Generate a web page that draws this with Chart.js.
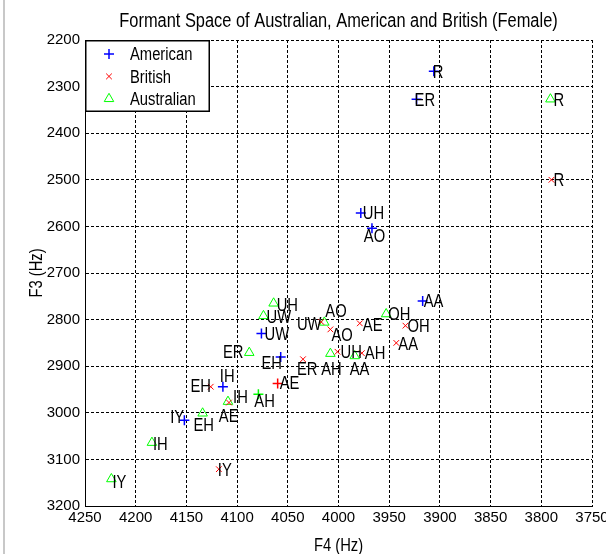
<!DOCTYPE html>
<html>
<head>
<meta charset="utf-8">
<script src="https://cdn.jsdelivr.net/npm/chart.js@4/dist/chart.umd.min.js"></script>
<style>
  html, body { margin: 0; padding: 0; background: #fff; }
  #wrap { width: 606px; height: 554px; }
</style>
</head>
<body>
<div id="wrap"><canvas id="c" width="606" height="554"></canvas></div>
<script>
// Formant values (Hz) per accent; F4 on x, F3 on y.
const vowelsAmerican = ['IY', 'IH', 'EH', 'AE', 'AH', 'AA', 'AO', 'UH', 'UW', 'ER', 'R'];
const f4American = [4152, 4114, 4057, 4060, 4079, 3917, 3967, 3978, 4076, 3923, 3906];
const f3American = [3016, 2944, 2880, 2937, 2960, 2760, 2604, 2571, 2830, 2327, 2267];
// where each vowel name is written
const labelF4American = [4166, 4117, 4076, 4058, 4083, 3916, 3975, 3976, 4073, 3925, 3907];
const labelF3American = [3008, 2919, 2893, 2934, 2973, 2758, 2619, 2571, 2830, 2327, 2267];

const vowelsBritish = ['IY', 'IH', 'EH', 'AE', 'AH', 'AA', 'AO', 'OH', 'UH', 'UW', 'ER', 'R'];
const f4British = [4118, 4108, 4126, 3979, 3977, 3943, 4008, 3934, 4001, 4017, 4035, 3790];
const f3British = [3121, 2978, 2944, 2808, 2872, 2850, 2821, 2813, 2869, 2805, 2885, 2500];
const labelF4British = [4119, 4104, 4146, 3976, 3974, 3941, 4007, 3932, 3998, 4041, 4041, 3788];
const labelF3British = [3121, 2966, 2942, 2810, 2870, 2852, 2833, 2813, 2869, 2808, 2905, 2500];

const vowelsAustralian = ['IY', 'IH', 'EH', 'AE', 'AH', 'AA', 'AO', 'OH', 'UH', 'UW', 'ER', 'R'];
const f4Australian = [4224, 4184, 4134, 4109, 4008, 3984, 4014, 3953, 4064, 4074, 4088, 3791];
const f3Australian = [3142, 3064, 3001, 2976, 2873, 2878, 2806, 2788, 2765, 2792, 2871, 2327];
const labelF4Australian = [4223, 4183, 4143, 4118, 4017, 3989, 4013, 3951, 4061, 4071, 4114, 3788];
const labelF3Australian = [3147, 3065, 3026, 3005, 2906, 2906, 2781, 2788, 2767, 2794, 2869, 2327];

const seriesNames = ['American', 'British', 'Australian'];
const xTickValues = [4250, 4200, 4150, 4100, 4050, 4000, 3950, 3900, 3850, 3800, 3750];
const yTickValues = [2200, 2300, 2400, 2500, 2600, 2700, 2800, 2900, 3000, 3100, 3200];
const titleText = 'Formant Space of Australian, American and British (Female)';
const xTitle = 'F4 (Hz)';
const yTitle = 'F3 (Hz)';

const FONT = '"Liberation Sans", Arial, Helvetica, sans-serif';
const NARROW = 0.82;   // horizontal squeeze for the tall, narrow lettering
const BLUE = '#0000ff', RED = '#ff0000', GREEN = '#00ff00';

// two American tokens are marked in another colour
const americanColours = vowelsAmerican.map(v => v === 'AE' ? RED : (v === 'AH' ? GREEN : BLUE));

function toPoints(f4, f3) {
  return f4.map((x, i) => ({ x: x, y: f3[i] }));
}

function drawMarker(ctx, style, x, y, r, colour, width) {
  ctx.save();
  ctx.strokeStyle = colour;
  ctx.lineWidth = width;
  ctx.beginPath();
  if (style === 'cross') {
    ctx.moveTo(x - r, y); ctx.lineTo(x + r, y);
    ctx.moveTo(x, y - r); ctx.lineTo(x, y + r);
  } else if (style === 'crossRot') {
    const d = r * Math.SQRT1_2;
    ctx.moveTo(x - d, y - d); ctx.lineTo(x + d, y + d);
    ctx.moveTo(x - d, y + d); ctx.lineTo(x + d, y - d);
  } else {
    const s = r * Math.sin(Math.PI / 3);
    ctx.moveTo(x, y - r);
    ctx.lineTo(x + s, y + r / 2);
    ctx.lineTo(x - s, y + r / 2);
    ctx.closePath();
  }
  ctx.stroke();
  ctx.restore();
}

// narrow text whose capitals are centred on y
function narrowText(ctx, str, x, y, size, align, angle) {
  ctx.save();
  ctx.translate(x, y);
  if (angle) ctx.rotate(angle);
  ctx.scale(NARROW, 1);
  ctx.font = size + 'px ' + FONT;
  ctx.fillStyle = '#000';
  ctx.textAlign = align;
  ctx.textBaseline = 'alphabetic';
  ctx.fillText(str, 0, size * 0.36);
  ctx.restore();
}

const vowelLabels = {
  id: 'vowelLabels',
  afterDatasetsDraw(chart) {
    const ctx = chart.ctx;
    const xs = chart.scales.x, ys = chart.scales.y;
    const sets = [
      [vowelsAmerican, labelF4American, labelF3American],
      [vowelsBritish, labelF4British, labelF3British],
      [vowelsAustralian, labelF4Australian, labelF3Australian]
    ];
    sets.forEach(([names, lx, ly]) => {
      names.forEach((n, i) => {
        narrowText(ctx, n, xs.getPixelForValue(lx[i]), ys.getPixelForValue(ly[i]), 18, 'left');
      });
    });
  }
};

const frame = {
  id: 'frame',
  beforeDraw(chart) {
    const ctx = chart.ctx;
    ctx.save();
    ctx.fillStyle = '#fff';
    ctx.fillRect(0, 0, chart.width, chart.height);
    ctx.fillStyle = '#c8c8c8';
    ctx.fillRect(3, 0, 2, chart.height);
    ctx.restore();
  },
  afterDraw(chart) {
    const ctx = chart.ctx;
    const a = chart.chartArea;
    const cx = (a.left + a.right) / 2;
    narrowText(ctx, titleText, cx, 20, 20, 'center');
    narrowText(ctx, xTitle, cx, 545, 18, 'center');
    narrowText(ctx, yTitle, 36, (a.top + a.bottom) / 2, 18, 'center', -Math.PI / 2);

    // legend box in the upper left corner of the axes
    const ds = chart.data.datasets;
    const lx = a.left, ly = a.top, lw = 125, lh = 72;
    ctx.save();
    ctx.fillStyle = '#fff';
    ctx.fillRect(lx, ly, lw, lh);
    ctx.strokeStyle = '#000';
    ctx.lineWidth = 1.5;
    ctx.strokeRect(lx + 0.75, ly + 0.75, lw - 1.5, lh - 1.5);
    ctx.restore();
    seriesNames.forEach((name, i) => {
      const y = ly + 14 + i * 22.4;
      const d = ds[i];
      const colour = i === 0 ? BLUE : d.pointBorderColor;
      drawMarker(ctx, d.pointStyle, lx + 24, y, d.pointRadius, colour, d.pointBorderWidth);
      narrowText(ctx, name, lx + 45, y, 18, 'left');
    });
  }
};

const tickFont = { family: FONT, size: 15 };

new Chart(document.getElementById('c'), {
  type: 'scatter',
  data: {
    datasets: [
      {
        label: seriesNames[0],
        data: toPoints(f4American, f3American),
        pointStyle: 'cross',
        pointRadius: 5,
        pointBorderWidth: 1.5,
        pointBorderColor: americanColours,
        pointBackgroundColor: 'rgba(0,0,0,0)'
      },
      {
        label: seriesNames[1],
        data: toPoints(f4British, f3British),
        pointStyle: 'crossRot',
        pointRadius: 4,
        pointBorderWidth: 1,
        pointBorderColor: RED,
        pointBackgroundColor: 'rgba(0,0,0,0)'
      },
      {
        label: seriesNames[2],
        data: toPoints(f4Australian, f3Australian),
        pointStyle: 'triangle',
        pointRadius: 5.5,
        pointBorderWidth: 1,
        pointBorderColor: GREEN,
        pointBackgroundColor: 'rgba(0,0,0,0)'
      }
    ]
  },
  options: {
    responsive: false,
    animation: false,
    devicePixelRatio: 1,
    events: [],
    layout: { padding: { top: 40, right: 14, left: 0, bottom: 0 } },
    plugins: {
      legend: { display: false },
      tooltip: { enabled: false },
      title: { display: false }
    },
    scales: {
      x: {
        type: 'linear',
        reverse: true,
        min: 3750,
        max: 4250,
        afterBuildTicks(s) { s.ticks = xTickValues.map(v => ({ value: v })); },
        ticks: { color: '#000', font: tickFont, padding: 3, maxRotation: 0, autoSkip: false,
                 callback: v => String(v) },
        grid: { color: '#000', lineWidth: 1, drawTicks: false },
        border: { display: true, color: '#000', width: 1, dash: [3, 2] },
        afterFit(s) { s.height = 48; s.paddingLeft = 0; s.paddingRight = 0; }
      },
      y: {
        type: 'linear',
        reverse: true,
        min: 2200,
        max: 3200,
        afterBuildTicks(s) { s.ticks = yTickValues.map(v => ({ value: v })); },
        ticks: { color: '#000', font: tickFont, padding: 5, autoSkip: false,
                 callback: v => String(v) },
        grid: { color: '#000', lineWidth: 1, drawTicks: false },
        border: { display: true, color: '#000', width: 1, dash: [3, 2] },
        afterFit(s) { s.width = 85; s.paddingTop = 0; s.paddingBottom = 0; }
      }
    }
  },
  plugins: [frame, vowelLabels]
});
</script>
</body>
</html>
